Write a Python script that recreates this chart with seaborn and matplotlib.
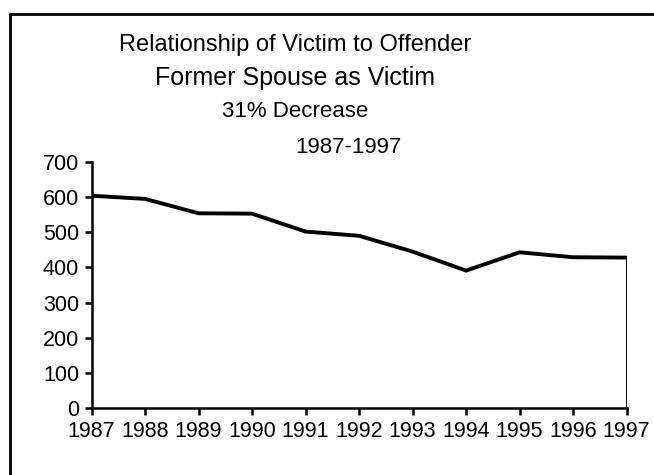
import matplotlib
matplotlib.use("Agg")
import matplotlib.pyplot as plt
import seaborn as sns
import pandas as pd
from matplotlib.lines import Line2D

years = [1987, 1988, 1989, 1990, 1991, 1992, 1993, 1994, 1995, 1996, 1997]
victims = [604, 595, 554, 553, 502, 490, 445, 391, 443, 429, 428]
y_ticks = [0, 100, 200, 300, 400, 500, 600, 700]

title_lines = ["Relationship of Victim to Offender",
               "Former Spouse as Victim",
               "31% Decrease"]
period_label = "1987-1997"

sns.set_theme(style="white")
plt.rcParams["font.family"] = ["Liberation Sans", "DejaVu Sans"]
plt.rcParams["text.color"] = "black"

df = pd.DataFrame({"year": years, "victims": victims})

fig = plt.figure(figsize=(6.54, 4.75), dpi=100)
ax = fig.add_axes([0.140, 0.141, 0.818, 0.518])

sns.lineplot(data=df, x="year", y="victims", ax=ax, color="black",
             linewidth=2.8, solid_joinstyle="miter")
# closing edge of the area outline at the final year
ax.vlines(years[-1], 0, victims[-1], color="black", linewidth=2.2)

ax.set_xlim(years[0], years[-1])
ax.set_ylim(0, 700)
ax.set_xticks(years)
ax.set_yticks(y_ticks)
ax.set_xlabel("")
ax.set_ylabel("")
ax.tick_params(axis="both", which="major", labelsize=15.5, colors="black",
               labelcolor="black", direction="out", length=5, width=1.8,
               bottom=True, left=True, pad=4)
for side in ("top", "right"):
    ax.spines[side].set_visible(False)
for side in ("left", "bottom"):
    ax.spines[side].set_color("black")
    ax.spines[side].set_linewidth(1.8)

# centered title block
fig.text(0.451, 0.905, title_lines[0], ha="center", va="center", fontsize=17,
         color="black")
fig.text(0.451, 0.835, title_lines[1], ha="center", va="center", fontsize=18,
         color="black")
fig.text(0.451, 0.766, title_lines[2], ha="center", va="center", fontsize=16,
         color="black")
fig.text(0.533, 0.690, period_label, ha="center", va="center", fontsize=16,
         color="black")

# outer frame
fig.add_artist(Line2D([10 / 654, 10 / 654], [0, 1 - 14 / 475],
                      transform=fig.transFigure, color="black", linewidth=2))
fig.add_artist(Line2D([10 / 654, 1], [1 - 14 / 475, 1 - 14 / 475],
                      transform=fig.transFigure, color="black", linewidth=2))

fig.savefig("out.png", dpi=100, facecolor="white")
